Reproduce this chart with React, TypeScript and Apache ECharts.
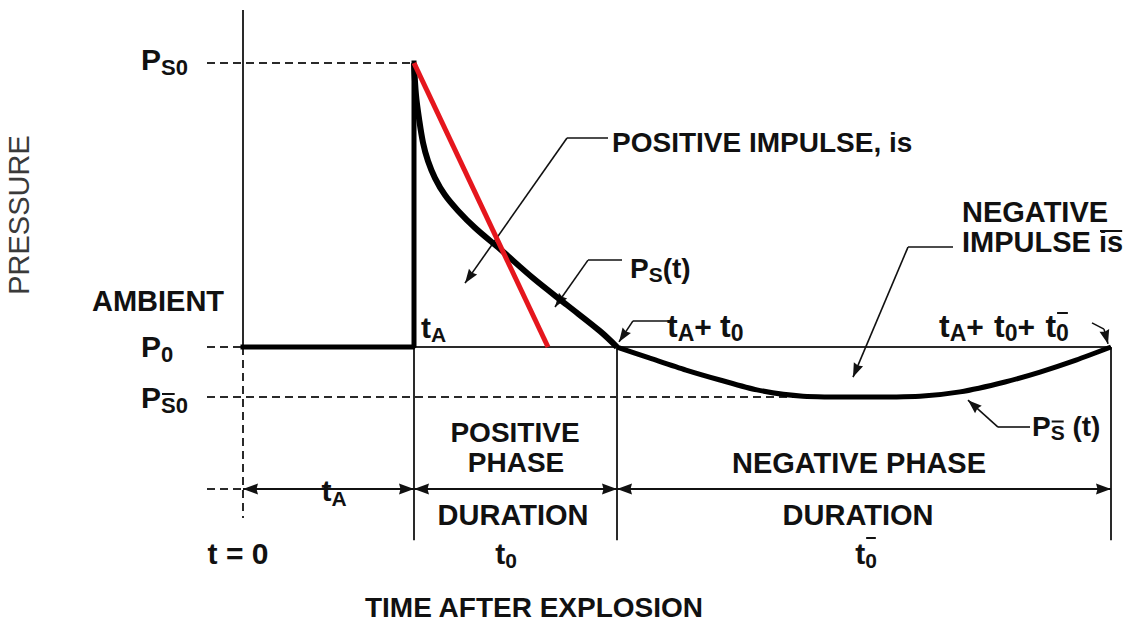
import React, { useEffect, useRef } from "react";
import * as echarts from "echarts";

const FONT = '"Liberation Sans", Arial, Helvetica, sans-serif';
const INK = "#111111";
const LINE = "#2a2a2a";
const RED = "#e5161d";

// Key instants (time units) and pressure levels (percent of peak side-on overpressure)
const T_START = 0;
const T_ARRIVAL = 17.1;
const T_POS_END = 37.4;
const T_NEG_END = 86.8;
const T_LEFT_DASH = -3.6;
const T_NEG_DASH_END = 56;
const P_AMBIENT = 0;
const P_PEAK = 100;
const P_NEG_PEAK = -17.6;
const P_AXIS_TOP = 118.7;
const P_DIM_ROW = -50;
const P_TICK_BOTTOM = -68;
const P_AXIS_DASH_BOTTOM = -60.2;

// Pressure-time history
const preArrival: number[][] = [[T_START, P_AMBIENT], [T_ARRIVAL, P_AMBIENT], [T_ARRIVAL, P_PEAK]];
const positivePhase: number[][] = [
  [17.1, 100], [17.3, 88.7], [17.6, 80.5], [18.0, 72.0], [18.5, 65.5], [19.2, 59.5],
  [20.2, 53.5], [21.5, 48.0], [23.2, 42.0], [25.7, 34.5], [29.0, 24.3], [32.4, 14.8],
  [35.7, 5.6], [37.4, 0],
];
const negativePhase: number[][] = [
  [37.4, 0], [40.7, -3.9], [44.3, -8.1], [47.7, -11.6], [51.4, -15.1], [56.0, -17.3],
  [61.7, -17.6], [67.7, -17.3], [71.7, -15.8], [76.2, -12.3], [79.7, -8.8], [83.3, -4.6], [86.8, 0],
];
const linearDecay: number[][] = [[17.1, 100], [30.5, 0]];

// Annotation leaders: label end -> elbow -> arrow tip
const leaders: number[][][] = [
  [[36.5, 73.6], [32.4, 73.6], [22.2, 22.5]],
  [[37.9, 30.6], [34.5, 30.6], [31.2, 14.1]],
  [[42.7, 9.2], [39.0, 9.2], [37.6, 1.8]],
  [[71.0, 35.2], [66.5, 35.2], [61.0, -10.6]],
  [[84.9, 8.5], [86.1, 6.3], [86.5, 1.1]],
  [[78.7, -28.2], [75.5, -28.2], [72.5, -18.7]],
];

const solidSegments = [
  [[T_START, P_AMBIENT], [T_START, P_AXIS_TOP]],
  [[T_ARRIVAL, P_AMBIENT], [T_NEG_END, P_AMBIENT]],
  [[T_ARRIVAL, P_AMBIENT], [T_ARRIVAL, P_TICK_BOTTOM]],
  [[T_POS_END, P_AMBIENT], [T_POS_END, P_TICK_BOTTOM]],
  [[T_NEG_END, P_AMBIENT], [T_NEG_END, P_TICK_BOTTOM]],
];
const dashedSegments = [
  [[T_LEFT_DASH, P_PEAK], [T_ARRIVAL, P_PEAK]],
  [[T_LEFT_DASH, P_AMBIENT], [T_START, P_AMBIENT]],
  [[T_LEFT_DASH, P_NEG_PEAK], [T_NEG_DASH_END, P_NEG_PEAK]],
  [[T_START, P_AMBIENT], [T_START, P_AXIS_DASH_BOTTOM]],
  [[T_LEFT_DASH, P_DIM_ROW], [T_START, P_DIM_ROW]],
];
const dimensionSegments = [
  [[T_START, P_DIM_ROW], [T_ARRIVAL, P_DIM_ROW]],
  [[T_ARRIVAL, P_DIM_ROW], [T_POS_END, P_DIM_ROW]],
  [[T_POS_END, P_DIM_ROW], [T_NEG_END, P_DIM_ROW]],
];

// filled arrow whose tip sits at the centre of its symbol box
const ARROW = "path://M0,0M0,10L5,20L0,19L-5,20Z";

let measureCtx: CanvasRenderingContext2D | null = null;
function textWidth(t: string, s: number, weight = "bold") {
  if (!measureCtx) measureCtx = document.createElement("canvas").getContext("2d");
  if (!measureCtx) return t.length * s * 0.6;
  measureCtx.font = `${weight} ${s}px ${FONT}`;
  return measureCtx.measureText(t).width;
}

function textEl(text: string, x: number, y: number, size: number, align = "left", weight = "bold", fill = INK) {
  return {
    type: "text",
    z: 50,
    style: {
      text, x, y, fontSize: size, fontWeight: weight, fontFamily: FONT, fill,
      align, textAlign: align, verticalAlign: "middle", textVerticalAlign: "middle",
    },
  };
}

type Part = { t: string; s: number; dy?: number; bar?: boolean; barDy?: number; pad?: number };
function compose(parts: Part[], x: number, y: number, align = "left") {
  const ws = parts.map((p) => textWidth(p.t, p.s) + (p.pad ?? 0));
  const total = ws.reduce((a, b) => a + b, 0);
  let cx = align === "center" ? x - total / 2 : align === "right" ? x - total : x;
  const out: any[] = [];
  parts.forEach((p, i) => {
    const py = y + (p.dy ?? 0);
    out.push(textEl(p.t, cx, py, p.s));
    if (p.bar) {
      const w = textWidth(p.t, p.s);
      const by = p.barDy !== undefined ? y + p.barDy : py - p.s * 0.5;
      out.push({
        type: "line", z: 50,
        shape: { x1: cx + 1, y1: by, x2: cx + w - 1, y2: by },
        style: { stroke: INK, lineWidth: 2 },
      });
    }
    cx += ws[i];
  });
  return out;
}

function buildGraphics() {
  return [
    {
      type: "text", x: 19, y: 215, rotation: Math.PI / 2, z: 50,
      style: {
        text: "PRESSURE", x: 0, y: 0, fontSize: 29, fontWeight: "normal", fontFamily: FONT,
        fill: "#3a3a3a", align: "center", textAlign: "center", verticalAlign: "middle", textVerticalAlign: "middle",
      },
    },
    ...compose([{ t: "P", s: 30 }, { t: "S0", s: 22, dy: 8 }], 141, 59),
    textEl("AMBIENT", 158, 301, 29, "center"),
    ...compose([{ t: "P", s: 30 }, { t: "0", s: 22, dy: 8 }], 141, 346),
    ...compose([{ t: "P", s: 30 }, { t: "S", s: 22, dy: 8, bar: true }, { t: "0", s: 22, dy: 8 }], 141, 397),
    ...compose([{ t: "t", s: 30 }, { t: "A", s: 21, dy: 7 }], 421, 327),
    textEl("POSITIVE IMPULSE, is", 612, 142, 28),
    textEl("NEGATIVE", 962, 212, 29),
    textEl("IMPULSE", 962, 242, 29),
    ...compose([{ t: "is", s: 29, bar: true, barDy: -11 }], 1099, 242),
    ...compose([{ t: "P", s: 28 }, { t: "S", s: 21, dy: 6 }, { t: "(t)", s: 28 }], 630, 268),
    ...compose([
      { t: "t", s: 32 }, { t: "A", s: 23, dy: 7 }, { t: "+ ", s: 30 }, { t: "t", s: 32 }, { t: "0", s: 23, dy: 7 },
    ], 667, 326),
    ...compose([
      { t: "t", s: 32 }, { t: "A", s: 23, dy: 7 }, { t: "+ ", s: 30, pad: 2 }, { t: "t", s: 32 }, { t: "0", s: 23, dy: 7 },
      { t: "+ ", s: 30, pad: 2 }, { t: "t", s: 32 }, { t: "0", s: 23, dy: 7, bar: true, barDy: -13 },
    ], 939, 326),
    ...compose([{ t: "P", s: 28 }, { t: "S", s: 21, dy: 6, bar: true }, { t: " (t)", s: 28 }], 1032, 426),
    textEl("POSITIVE", 515, 432, 28, "center"),
    textEl("PHASE", 516, 462, 28, "center"),
    textEl("NEGATIVE PHASE", 859, 463, 29, "center"),
    ...compose([{ t: "t", s: 30 }, { t: "A", s: 21, dy: 8 }], 334, 490, "center"),
    textEl("DURATION", 513, 515, 29, "center"),
    textEl("DURATION", 858, 515, 29, "center"),
    textEl("t = 0", 238, 553, 30, "center"),
    ...compose([{ t: "t", s: 30 }, { t: "0", s: 21, dy: 7 }], 506, 553, "center"),
    ...compose([{ t: "t", s: 30 }, { t: "0", s: 21, dy: 7, bar: true, barDy: -15 }], 866, 553, "center"),
    textEl("TIME AFTER EXPLOSION", 534, 607, 28, "center"),
  ];
}

function buildOption() {
  const seg = (list: number[][][]) => list.map((coords) => ({ coords }));
  return {
    animation: false,
    backgroundColor: "#ffffff",
    grid: { left: 0, right: 0, top: 0, bottom: 0, containLabel: false },
    xAxis: { type: "value", min: -24.3, max: 89.2, show: false },
    yAxis: { type: "value", min: -100.7, max: 122.2, show: false },
    series: [
      {
        type: "lines", coordinateSystem: "cartesian2d", silent: true, z: 2,
        lineStyle: { color: LINE, width: 2, opacity: 1 },
        symbol: ["none", "none"],
        data: seg(solidSegments),
      },
      {
        type: "lines", coordinateSystem: "cartesian2d", silent: true, z: 2,
        lineStyle: { color: LINE, width: 2, type: [8, 5], opacity: 1 },
        symbol: ["none", "none"],
        data: seg(dashedSegments),
      },
      {
        type: "lines", coordinateSystem: "cartesian2d", silent: true, z: 3,
        lineStyle: { color: INK, width: 2, opacity: 1 },
        symbol: [ARROW, ARROW], symbolSize: [[11, 30], [11, 30]],
        data: seg(dimensionSegments),
      },
      {
        type: "lines", coordinateSystem: "cartesian2d", silent: true, z: 4,
        lineStyle: { color: INK, width: 1.6, opacity: 1 },
        symbol: ["none", "none"],
        data: seg(leaders.map((l) => l.slice(0, 2))),
      },
      {
        type: "lines", coordinateSystem: "cartesian2d", silent: true, z: 4,
        lineStyle: { color: INK, width: 1.6, opacity: 1 },
        symbol: ["none", ARROW], symbolSize: [[10, 28], [10, 28]],
        data: seg(leaders.map((l) => l.slice(1))),
      },
      {
        type: "line", data: preArrival, showSymbol: false, silent: true, z: 5,
        lineStyle: { color: "#000", width: 5, cap: "square" },
      },
      {
        type: "line", data: positivePhase, showSymbol: false, silent: true, smooth: 0.35, z: 6,
        lineStyle: { color: "#000", width: 6 },
      },
      {
        type: "line", data: negativePhase, showSymbol: false, silent: true, smooth: 0.25, z: 6,
        lineStyle: { color: "#000", width: 5 },
      },
      {
        type: "line", data: linearDecay, showSymbol: false, silent: true, z: 7,
        lineStyle: { color: RED, width: 5 },
      },
    ],
    graphic: { elements: buildGraphics() },
  };
}

export default function App() {
  const ref = useRef<HTMLDivElement>(null);
  useEffect(() => {
    if (!ref.current) return;
    const chart = echarts.init(ref.current, undefined, { renderer: "svg" });
    chart.setOption(buildOption() as any);
    return () => chart.dispose();
  }, []);
  return (
    <div
      ref={ref}
      style={{ position: "fixed", left: 0, top: 0, width: 1135, height: 633, background: "#fff" }}
    />
  );
}
